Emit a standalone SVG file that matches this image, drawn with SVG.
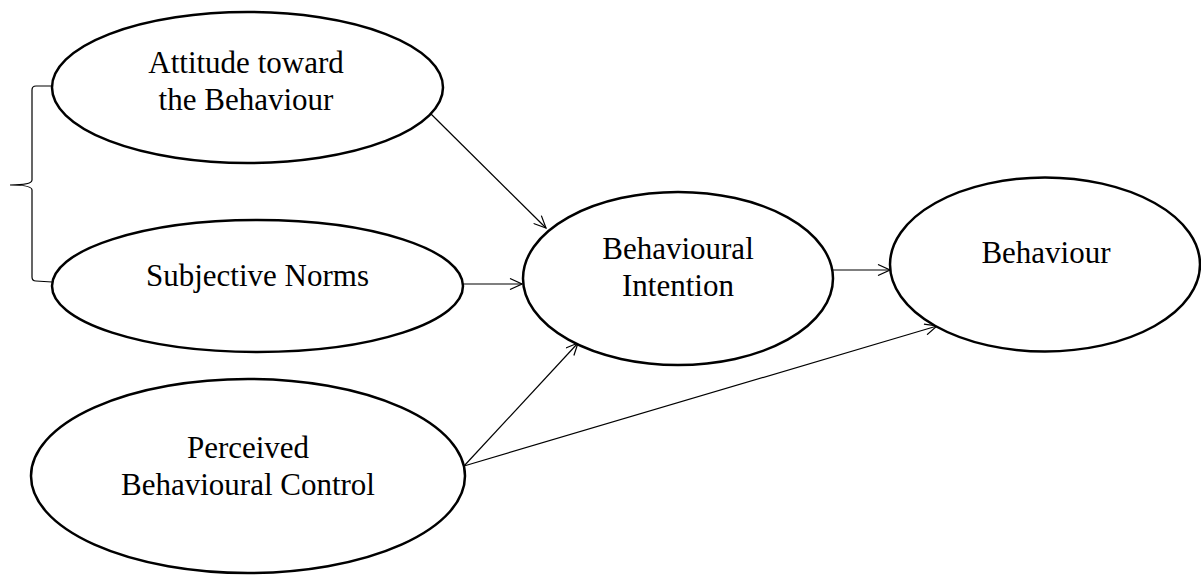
<svg xmlns="http://www.w3.org/2000/svg" width="1201" height="575" viewBox="0 0 1201 575">
<style>
.node{fill:#fff;stroke:#000;stroke-width:2.5}
.lbl{font-family:"Liberation Serif","Times New Roman",serif;font-size:31px;fill:#000;text-anchor:middle}
.conn{stroke:#000;stroke-width:1.2;fill:none}
</style>
<defs>
<marker id="arr" viewBox="0 0 14 12" refX="13" refY="6" markerWidth="14" markerHeight="12" markerUnits="userSpaceOnUse" orient="auto">
<path d="M1,0.5 L13,6 L1,11.5" fill="none" stroke="#000" stroke-width="1.2"/>
</marker>
</defs>
<rect width="1201" height="575" fill="#fff"/>
<g id="connectors">
<path class="conn" d="M52,86 L36,86 Q32,86 32,90 L32,180 Q32,185 10,185 Q32,185 32,190 L32,277 Q32,281 36,281 L52,282"/>
<line class="conn" x1="430" y1="113" x2="546" y2="228" marker-end="url(#arr)"/>
<line class="conn" x1="463" y1="284" x2="522" y2="284" marker-end="url(#arr)"/>
<line class="conn" x1="464" y1="466" x2="578" y2="343" marker-end="url(#arr)"/>
<line class="conn" x1="464" y1="466" x2="937" y2="326" marker-end="url(#arr)"/>
<line class="conn" x1="833" y1="270" x2="890" y2="270" marker-end="url(#arr)"/>
</g>
<g id="attitude">
<ellipse class="node" cx="247.5" cy="87.5" rx="195.5" ry="75.5"/>
<text class="lbl" x="246" y="73">Attitude toward</text>
<text class="lbl" x="246" y="110">the Behaviour</text>
</g>
<g id="subjective-norms">
<ellipse class="node" cx="257.5" cy="286" rx="205.5" ry="66"/>
<text class="lbl" x="257.5" y="286">Subjective Norms</text>
</g>
<g id="pbc">
<ellipse class="node" cx="248" cy="476" rx="217" ry="97"/>
<text class="lbl" x="248" y="458">Perceived</text>
<text class="lbl" x="248" y="495">Behavioural Control</text>
</g>
<g id="intention">
<ellipse class="node" cx="678" cy="278.5" rx="155" ry="86.5"/>
<text class="lbl" x="678" y="259">Behavioural</text>
<text class="lbl" x="678" y="296">Intention</text>
</g>
<g id="behaviour">
<ellipse class="node" cx="1045" cy="264.5" rx="155" ry="87"/>
<text class="lbl" x="1046" y="263">Behaviour</text>
</g>
</svg>
